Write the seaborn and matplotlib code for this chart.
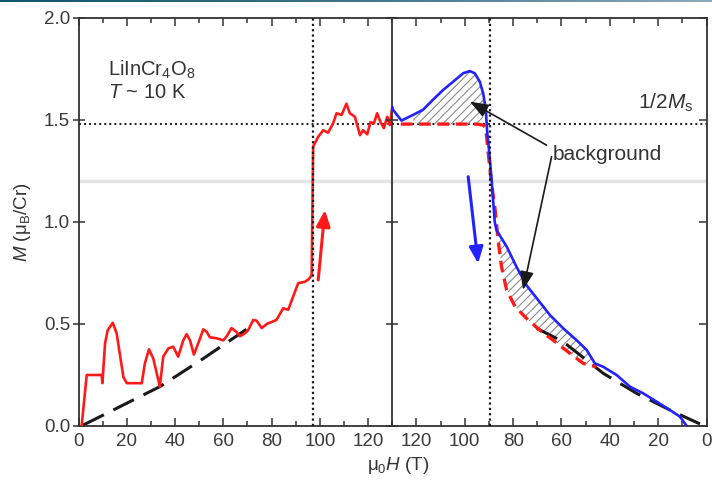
import numpy as np
import matplotlib
matplotlib.use("Agg")
import matplotlib.pyplot as plt
import seaborn as sns

# ---- field-up sweep (red), mu0H in T, M in muB/Cr
h_up = [1.3, 3.4, 9.6, 9.9, 11.0, 12.1, 14.2, 15.8, 18.6, 20.0, 26.2, 27.5, 29.2,
        31.0, 33.7, 35.1, 37.2, 39.2, 41.3, 43.4, 44.8, 46.2, 47.8, 49.6, 51.7,
        53.1, 54.4, 57.2, 60.0, 61.4, 63.4, 65.5, 66.9, 68.9, 70.3, 72.4, 73.8,
        75.9, 78.0, 82.0, 84.8, 86.9, 88.9, 91.0, 93.8, 95.4, 96.6, 97.2, 99.3,
        101.4, 103.4, 105.5, 106.9, 109.0, 111.0, 112.4, 114.5, 116.6, 117.9,
        119.6, 121.0, 122.4, 123.7, 125.1, 126.5, 127.9, 129.0, 130.0]
m_up = [0.0, 0.25, 0.25, 0.21, 0.405, 0.47, 0.506, 0.454, 0.24, 0.21, 0.21, 0.307,
        0.376, 0.33, 0.193, 0.34, 0.38, 0.389, 0.34, 0.42, 0.45, 0.42, 0.35, 0.405,
        0.474, 0.462, 0.435, 0.43, 0.42, 0.44, 0.48, 0.46, 0.44, 0.454, 0.47, 0.52,
        0.516, 0.48, 0.50, 0.52, 0.577, 0.57, 0.634, 0.70, 0.707, 0.72, 0.74, 1.37,
        1.418, 1.45, 1.438, 1.484, 1.533, 1.525, 1.58, 1.533, 1.516, 1.426, 1.45,
        1.43, 1.49, 1.484, 1.533, 1.49, 1.46, 1.516, 1.475, 1.565]

# ---- field-down sweep (blue)
h_dn = [130.0, 129.7, 126.2, 121.4, 117.3, 113.1, 109.0, 104.8, 100.7, 97.9, 95.9,
        93.8, 92.4, 91.3, 90.8, 90.0, 89.0, 88.3, 87.6, 86.9, 82.7, 78.6, 74.5,
        69.7, 64.8, 59.3, 53.7, 49.6, 46.2, 42.7, 37.2, 31.7, 26.2, 20.6, 15.1,
        11.0, 8.2]
m_dn = [1.565, 1.55, 1.497, 1.525, 1.55, 1.6, 1.647, 1.688, 1.729, 1.74, 1.729,
        1.688, 1.63, 1.55, 1.45, 1.353, 1.222, 1.108, 1.0, 0.96, 0.88, 0.78, 0.69,
        0.618, 0.544, 0.479, 0.42, 0.373, 0.307, 0.29, 0.25, 0.193, 0.16, 0.119,
        0.078, 0.046, 0.0]

# ---- background estimate on the down sweep (red dashed)
h_bg = [126.5, 110.0, 95.0, 92.4, 91.3, 90.4, 89.0, 87.6, 86.2, 84.8, 82.7, 79.2,
        74.5, 69.0, 63.4, 56.5, 51.0, 45.5]
m_bg = [1.48, 1.48, 1.48, 1.475, 1.46, 1.35, 1.19, 1.075, 0.91, 0.78, 0.667, 0.585,
        0.528, 0.47, 0.42, 0.356, 0.307, 0.29]

# ---- low-field extrapolations (black dashed)
h_lo_up = [2.0, 10.3, 33.7, 51.0, 69.6]
m_lo_up = [0.005, 0.054, 0.193, 0.325, 0.474]
h_lo_dn = [70.3, 59.3, 42.7, 28.9, 15.1, 2.7]
m_lo_dn = [0.479, 0.413, 0.258, 0.16, 0.078, 0.01]

# ---- reference levels
h_jump_up = 97.0
h_jump_dn = 89.5
m_half = 1.48
m_grey = 1.2

x_ticks = [0, 20, 40, 60, 80, 100, 120]
y_ticks = [0.0, 0.5, 1.0, 1.5, 2.0]

sns.set_theme(style="ticks")
plt.rcParams["font.family"] = ["Liberation Sans", "DejaVu Sans"]
plt.rcParams["mathtext.fontset"] = "custom"
plt.rcParams["mathtext.rm"] = "Liberation Sans"
plt.rcParams["mathtext.it"] = "Liberation Sans:italic"
plt.rcParams["mathtext.bf"] = "Liberation Sans:bold"
plt.rcParams["hatch.linewidth"] = 0.8
plt.rcParams["lines.solid_joinstyle"] = "round"
plt.rcParams["lines.solid_capstyle"] = "round"

INK = "#333333"
RED = "#ff1a1a"
BLUE = "#2222ff"

W, H = 712, 483
fig = plt.figure(figsize=(W / 100, H / 100), dpi=100)
x0, xm, x1 = 78.5, 392.3, 706.5
yb, yt = 426, 18
axL = fig.add_axes([x0 / W, (H - yb) / H, (xm - x0) / W, (yb - yt) / H])
axR = fig.add_axes([xm / W, (H - yb) / H, (x1 - xm) / W, (yb - yt) / H], sharey=axL)

for ax in (axL, axR):
    ax.axhline(m_grey, color="#e4e4e4", lw=2.5, zorder=0)
    ax.axhline(m_half, color="k", lw=1.4, ls=(0, (1, 1.6)), zorder=1)

# left panel: increasing field
sns.lineplot(x=h_lo_up, y=m_lo_up, ax=axL, sort=False, estimator=None,
             color="k", lw=2.2, zorder=2).lines[-1].set_dashes((7.5, 3.5))
sns.lineplot(x=h_up, y=m_up, ax=axL, sort=False, estimator=None,
             color=RED, lw=1.9, zorder=3)
axL.axvline(h_jump_up, color="k", lw=1.6, ls=(0, (1, 1.4)), zorder=4)
axL.annotate("", xy=(102.1, 1.059), xytext=(99.3, 0.716),
             arrowprops=dict(arrowstyle="-|>,head_length=0.7,head_width=0.3",
                             color=RED, lw=2.2, shrinkA=0, shrinkB=0,
                             mutation_scale=14))
axL.text(12.2, 1.716, r"LiInCr$_4$O$_8$", fontsize=14.5, color=INK,
         ha="left", va="baseline")
axL.text(12.2, 1.606, r"$T$ ~ 10 K", fontsize=14.5, color=INK,
         ha="left", va="baseline")

# right panel: decreasing field (axis reversed)
hb = np.array(h_dn[::-1])
mb = np.array(m_dn[::-1])
hg = np.array(h_bg[::-1])
mg = np.array(m_bg[::-1])
for lo, hi in ((92.4, 121.4), (46.0, 87.6)):
    grid = np.linspace(lo, hi, 200)
    yb_ = np.interp(grid, hb, mb)
    yg_ = np.interp(grid, hg, mg)
    axR.fill_between(grid, yg_, yb_, where=yb_ > yg_, facecolor="none",
                     edgecolor="#8a8a8a", hatch="////", lw=0, zorder=1)

sns.lineplot(x=h_lo_dn, y=m_lo_dn, ax=axR, sort=False, estimator=None,
             color="k", lw=2.2, zorder=2).lines[-1].set_dashes((7.5, 3.5))
sns.lineplot(x=h_bg, y=m_bg, ax=axR, sort=False, estimator=None,
             color=RED, lw=2.4, zorder=3).lines[-1].set_dashes((3.5, 2))
sns.lineplot(x=h_dn, y=m_dn, ax=axR, sort=False, estimator=None,
             color=BLUE, lw=1.9, zorder=4)
axR.axvline(h_jump_dn, color="k", lw=1.6, ls=(0, (1, 1.4)), zorder=5)
axR.annotate("", xy=(94.5, 0.797), xytext=(98.6, 1.222),
             arrowprops=dict(arrowstyle="-|>,head_length=0.7,head_width=0.3",
                             color=BLUE, lw=2.2, shrinkA=0, shrinkB=0,
                             mutation_scale=14))
arrow_kw = dict(arrowstyle="-|>,head_length=0.8,head_width=0.3", color="k",
                lw=1.2, shrinkA=0, shrinkB=0, mutation_scale=14)
axR.annotate("", xy=(97.9, 1.59), xytext=(66.2, 1.377), arrowprops=arrow_kw, zorder=6)
axR.annotate("", xy=(75.9, 0.667), xytext=(64.1, 1.32), arrowprops=arrow_kw, zorder=6)
axR.text(63.6, 1.333, "background", fontsize=15, color=INK, ha="left", va="center")
axR.text(5.6, 1.583, r"1/2$M_{\rm s}$", fontsize=15, color=INK, ha="right", va="center")

# axes, spines, ticks
axL.set_xlim(0, 130)
axR.set_xlim(130, 0)
axL.set_ylim(0, 2.0)
for ax in (axL, axR):
    ax.set_xticks(x_ticks)
    ax.set_xticks(np.arange(10, 131, 10), minor=True)
    ax.set_xlabel("")
    ax.set_ylabel("")
    for s in ax.spines.values():
        s.set_visible(True)
        s.set_color(INK)
        s.set_linewidth(1.3)
    ax.tick_params(axis="x", which="both", direction="in", top=True, bottom=True,
                   colors=INK, labelsize=13.5, pad=5, width=1.1)
    ax.tick_params(axis="x", which="major", length=6)
    ax.tick_params(axis="x", which="minor", length=3.5)
    ax.tick_params(axis="x", labelcolor="#3a3a3a")

axL.spines["right"].set_visible(False)
axL.set_yticks(y_ticks)
axL.set_yticklabels([f"{v:.1f}" for v in y_ticks])
axL.tick_params(axis="y", direction="inout", left=True, right=False, length=8,
                width=1.1, colors=INK, labelsize=13.5, labelcolor="#3a3a3a", pad=2)
axR.tick_params(axis="y", which="both", direction="inout", left=True, right=False,
                length=8, width=1.1, colors=INK, labelleft=False)
axR_right = axR.twinx()
axR_right.set_ylim(0, 2.0)
axR_right.set_yticks(y_ticks)
axR_right.tick_params(axis="y", direction="in", length=6, width=1.1,
                      colors=INK, labelright=False)
for s in axR_right.spines.values():
    s.set_visible(False)

axL.set_ylabel(r"$M$ (μ$_{\rm B}$/Cr)", fontsize=13.5, color=INK, labelpad=8)
fig.text(398 / W, 1 - 466 / H, r"μ$_0$$H$ (T)", fontsize=13.5, color=INK,
         ha="center", va="center")

# thin header band across the top edge
band = fig.add_axes([0, 1 - 2.5 / H, 1, 2.5 / H])
grad = np.linspace(0, 1, 256)[None, :]
band.imshow(grad, aspect="auto",
            cmap=matplotlib.colors.LinearSegmentedColormap.from_list(
                "band", ["#0f5568", "#3f7488", "#8ea9b8"]))
band.set_axis_off()

fig.savefig("out.png", dpi=100)
